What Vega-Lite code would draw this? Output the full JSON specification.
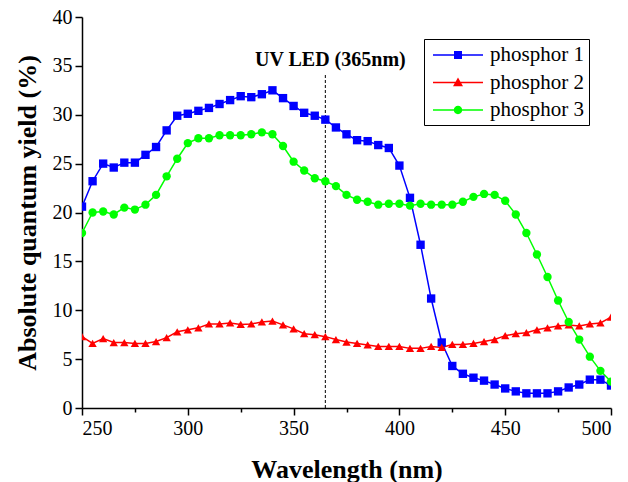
{
  "$schema": "https://vega.github.io/schema/vega-lite/v6.json",
  "width": 529,
  "height": 391,
  "autosize": "none",
  "padding": {"left": 82, "top": 17, "right": 17, "bottom": 74},
  "background": "white",
  "config": {
    "view": {"stroke": null},
    "axis": {
      "domainColor": "black", "domainWidth": 1.5, "tickColor": "black", "tickWidth": 1.5,
      "labelColor": "black", "labelFont": "Liberation Serif", "labelFontSize": 20,
      "titleFont": "Liberation Serif", "titleFontSize": 26, "titleFontWeight": "bold", "titleColor": "black",
      "grid": false
    }
  },
  "datasets": {
    "spectra": [
      {"w":250,"s":"phosphor 1","v":20.6},{"w":255,"s":"phosphor 1","v":23.2},{"w":260,"s":"phosphor 1","v":25.0},{"w":265,"s":"phosphor 1","v":24.6},{"w":270,"s":"phosphor 1","v":25.1},{"w":275,"s":"phosphor 1","v":25.1},{"w":280,"s":"phosphor 1","v":25.9},{"w":285,"s":"phosphor 1","v":26.7},{"w":290,"s":"phosphor 1","v":28.4},{"w":295,"s":"phosphor 1","v":29.9},
      {"w":300,"s":"phosphor 1","v":30.1},{"w":305,"s":"phosphor 1","v":30.4},{"w":310,"s":"phosphor 1","v":30.7},{"w":315,"s":"phosphor 1","v":31.1},{"w":320,"s":"phosphor 1","v":31.5},{"w":325,"s":"phosphor 1","v":31.9},{"w":330,"s":"phosphor 1","v":31.8},{"w":335,"s":"phosphor 1","v":32.1},{"w":340,"s":"phosphor 1","v":32.5},{"w":345,"s":"phosphor 1","v":31.7},
      {"w":350,"s":"phosphor 1","v":30.9},{"w":355,"s":"phosphor 1","v":30.2},{"w":360,"s":"phosphor 1","v":29.9},{"w":365,"s":"phosphor 1","v":29.5},{"w":370,"s":"phosphor 1","v":28.7},{"w":375,"s":"phosphor 1","v":28.0},{"w":380,"s":"phosphor 1","v":27.4},{"w":385,"s":"phosphor 1","v":27.3},{"w":390,"s":"phosphor 1","v":26.9},{"w":395,"s":"phosphor 1","v":26.6},
      {"w":400,"s":"phosphor 1","v":24.8},{"w":405,"s":"phosphor 1","v":21.5},{"w":410,"s":"phosphor 1","v":16.7},{"w":415,"s":"phosphor 1","v":11.2},{"w":420,"s":"phosphor 1","v":6.7},{"w":425,"s":"phosphor 1","v":4.3},{"w":430,"s":"phosphor 1","v":3.5},{"w":435,"s":"phosphor 1","v":3.1},{"w":440,"s":"phosphor 1","v":2.8},{"w":445,"s":"phosphor 1","v":2.4},
      {"w":450,"s":"phosphor 1","v":2.0},{"w":455,"s":"phosphor 1","v":1.7},{"w":460,"s":"phosphor 1","v":1.5},{"w":465,"s":"phosphor 1","v":1.5},{"w":470,"s":"phosphor 1","v":1.5},{"w":475,"s":"phosphor 1","v":1.7},{"w":480,"s":"phosphor 1","v":2.1},{"w":485,"s":"phosphor 1","v":2.4},{"w":490,"s":"phosphor 1","v":2.9},{"w":495,"s":"phosphor 1","v":2.9},{"w":500,"s":"phosphor 1","v":2.3},

      {"w":250,"s":"phosphor 2","v":7.3},{"w":255,"s":"phosphor 2","v":6.6},{"w":260,"s":"phosphor 2","v":7.1},{"w":265,"s":"phosphor 2","v":6.7},{"w":270,"s":"phosphor 2","v":6.7},{"w":275,"s":"phosphor 2","v":6.6},{"w":280,"s":"phosphor 2","v":6.6},{"w":285,"s":"phosphor 2","v":6.8},{"w":290,"s":"phosphor 2","v":7.2},{"w":295,"s":"phosphor 2","v":7.8},
      {"w":300,"s":"phosphor 2","v":8.0},{"w":305,"s":"phosphor 2","v":8.2},{"w":310,"s":"phosphor 2","v":8.6},{"w":315,"s":"phosphor 2","v":8.6},{"w":320,"s":"phosphor 2","v":8.7},{"w":325,"s":"phosphor 2","v":8.55},{"w":330,"s":"phosphor 2","v":8.6},{"w":335,"s":"phosphor 2","v":8.8},{"w":340,"s":"phosphor 2","v":8.9},{"w":345,"s":"phosphor 2","v":8.5},
      {"w":350,"s":"phosphor 2","v":8.1},{"w":355,"s":"phosphor 2","v":7.6},{"w":360,"s":"phosphor 2","v":7.5},{"w":365,"s":"phosphor 2","v":7.3},{"w":370,"s":"phosphor 2","v":7.0},{"w":375,"s":"phosphor 2","v":6.75},{"w":380,"s":"phosphor 2","v":6.6},{"w":385,"s":"phosphor 2","v":6.45},{"w":390,"s":"phosphor 2","v":6.3},{"w":395,"s":"phosphor 2","v":6.3},
      {"w":400,"s":"phosphor 2","v":6.3},{"w":405,"s":"phosphor 2","v":6.1},{"w":410,"s":"phosphor 2","v":6.1},{"w":415,"s":"phosphor 2","v":6.3},{"w":420,"s":"phosphor 2","v":6.2},{"w":425,"s":"phosphor 2","v":6.5},{"w":430,"s":"phosphor 2","v":6.5},{"w":435,"s":"phosphor 2","v":6.6},{"w":440,"s":"phosphor 2","v":6.8},{"w":445,"s":"phosphor 2","v":7.0},
      {"w":450,"s":"phosphor 2","v":7.4},{"w":455,"s":"phosphor 2","v":7.6},{"w":460,"s":"phosphor 2","v":7.7},{"w":465,"s":"phosphor 2","v":8.0},{"w":470,"s":"phosphor 2","v":8.2},{"w":475,"s":"phosphor 2","v":8.4},{"w":480,"s":"phosphor 2","v":8.5},{"w":485,"s":"phosphor 2","v":8.4},{"w":490,"s":"phosphor 2","v":8.6},{"w":495,"s":"phosphor 2","v":8.7},{"w":500,"s":"phosphor 2","v":9.3},

      {"w":250,"s":"phosphor 3","v":17.9},{"w":255,"s":"phosphor 3","v":20.0},{"w":260,"s":"phosphor 3","v":20.1},{"w":265,"s":"phosphor 3","v":19.8},{"w":270,"s":"phosphor 3","v":20.5},{"w":275,"s":"phosphor 3","v":20.3},{"w":280,"s":"phosphor 3","v":20.8},{"w":285,"s":"phosphor 3","v":21.8},{"w":290,"s":"phosphor 3","v":23.7},{"w":295,"s":"phosphor 3","v":25.5},
      {"w":300,"s":"phosphor 3","v":27.1},{"w":305,"s":"phosphor 3","v":27.6},{"w":310,"s":"phosphor 3","v":27.6},{"w":315,"s":"phosphor 3","v":27.9},{"w":320,"s":"phosphor 3","v":27.9},{"w":325,"s":"phosphor 3","v":27.9},{"w":330,"s":"phosphor 3","v":28.0},{"w":335,"s":"phosphor 3","v":28.2},{"w":340,"s":"phosphor 3","v":28.0},{"w":345,"s":"phosphor 3","v":26.8},
      {"w":350,"s":"phosphor 3","v":25.2},{"w":355,"s":"phosphor 3","v":24.3},{"w":360,"s":"phosphor 3","v":23.5},{"w":365,"s":"phosphor 3","v":23.2},{"w":370,"s":"phosphor 3","v":22.7},{"w":375,"s":"phosphor 3","v":21.8},{"w":380,"s":"phosphor 3","v":21.3},{"w":385,"s":"phosphor 3","v":21.1},{"w":390,"s":"phosphor 3","v":20.8},{"w":395,"s":"phosphor 3","v":20.9},
      {"w":400,"s":"phosphor 3","v":20.9},{"w":405,"s":"phosphor 3","v":20.7},{"w":410,"s":"phosphor 3","v":20.9},{"w":415,"s":"phosphor 3","v":20.8},{"w":420,"s":"phosphor 3","v":20.8},{"w":425,"s":"phosphor 3","v":20.8},{"w":430,"s":"phosphor 3","v":21.1},{"w":435,"s":"phosphor 3","v":21.6},{"w":440,"s":"phosphor 3","v":21.9},{"w":445,"s":"phosphor 3","v":21.8},
      {"w":450,"s":"phosphor 3","v":21.2},{"w":455,"s":"phosphor 3","v":19.8},{"w":460,"s":"phosphor 3","v":17.9},{"w":465,"s":"phosphor 3","v":15.7},{"w":470,"s":"phosphor 3","v":13.4},{"w":475,"s":"phosphor 3","v":11.0},{"w":480,"s":"phosphor 3","v":8.8},{"w":485,"s":"phosphor 3","v":7.0},{"w":490,"s":"phosphor 3","v":5.25},{"w":495,"s":"phosphor 3","v":3.8},{"w":500,"s":"phosphor 3","v":2.7}
    ],
    "led": [{"w": 365, "bottom": 0, "top": 34.1, "labelY": 35.6, "label": "UV LED (365nm)"}]
  },
  "resolve": {"scale": {"shape": "independent", "color": "independent"}},
  "layer": [
    {
      "data": {"name": "led"},
      "mark": {"type": "rule", "color": "black", "strokeWidth": 1, "strokeDash": [3, 2]},
      "encoding": {
        "x": {"field": "w", "type": "quantitative"},
        "y": {"field": "bottom", "type": "quantitative"},
        "y2": {"field": "top"}
      }
    },
    {
      "data": {"name": "led"},
      "mark": {"type": "text", "font": "Liberation Serif", "fontWeight": "bold", "fontSize": 20, "color": "black", "align": "center", "baseline": "middle", "dx": 5},
      "encoding": {
        "x": {"field": "w", "type": "quantitative"},
        "y": {"field": "labelY", "type": "quantitative"},
        "text": {"field": "label", "type": "nominal"}
      }
    },
    {
      "data": {"name": "spectra"},
      "mark": {"type": "line", "strokeWidth": 1.5, "clip": true},
      "encoding": {
        "x": {"field": "w", "type": "quantitative"},
        "y": {"field": "v", "type": "quantitative"},
        "stroke": {
          "field": "s", "type": "nominal",
          "scale": {"domain": ["phosphor 1", "phosphor 2", "phosphor 3"], "range": ["#0000ff", "#ff0000", "#00ff00"]},
          "legend": null
        }
      }
    },
    {
      "data": {"name": "spectra"},
      "mark": {"type": "point", "filled": true, "opacity": 1, "size": 70, "clip": true},
      "encoding": {
        "x": {
          "field": "w", "type": "quantitative",
          "scale": {"domain": [250, 500], "nice": false, "zero": false},
          "axis": {
            "title": "Wavelength (nm)",
            "values": [250,275,300,325,350,375,400,425,450,475,500],
            "labelExpr": "datum.value % 50 === 0 ? datum.label : ''",
            "tickSize": {"condition": {"test": "datum.value % 50 === 0", "value": 7}, "value": 4},
            "labelPadding": 3,
            "titlePadding": 18
          }
        },
        "y": {
          "field": "v", "type": "quantitative",
          "scale": {"domain": [0, 40], "nice": false},
          "axis": {
            "title": "Absolute quantum yield (%)",
            "values": [0,2.5,5,7.5,10,12.5,15,17.5,20,22.5,25,27.5,30,32.5,35,37.5,40],
            "labelExpr": "datum.value % 5 === 0 ? datum.label : ''",
            "tickSize": {"condition": {"test": "datum.value % 5 === 0", "value": 7}, "value": 4},
            "labelPadding": 3,
            "titlePadding": 12
          }
        },
        "fill": {
          "field": "s", "type": "nominal",
          "scale": {"domain": ["phosphor 1", "phosphor 2", "phosphor 3"], "range": ["#0000ff", "#ff0000", "#00ff00"]},
          "legend": null
        },
        "shape": {
          "field": "s", "type": "nominal",
          "scale": {"domain": ["phosphor 1", "phosphor 2", "phosphor 3"], "range": ["square", "triangle-up", "circle"]},
          "legend": null
        }
      }
    },
    {
      "data": {"name": "spectra"},
      "transform": [{"filter": "datum.w < 0"}],
      "mark": {"type": "point", "filled": true, "opacity": 1},
      "encoding": {
        "x": {"field": "w", "type": "quantitative"},
        "y": {"field": "v", "type": "quantitative"},
        "color": {
          "field": "s", "type": "nominal",
          "scale": {"domain": ["phosphor 1", "phosphor 2", "phosphor 3"], "range": ["#0000ff", "#ff0000", "#00ff00"]},
          "legend": {
            "orient": "none", "legendX": 342, "legendY": 22, "title": null,
            "strokeColor": "black", "fillColor": "white", "padding": 5,
            "labelFont": "Liberation Serif", "labelFontSize": 21, "labelColor": "black",
            "symbolSize": 400, "rowPadding": 6.5, "symbolOffset": 18, "labelOffset": 21, "symbolOpacity": 1
          }
        },
        "shape": {
          "field": "s", "type": "nominal",
          "scale": {
            "domain": ["phosphor 1", "phosphor 2", "phosphor 3"],
            "range": [
              "M-2.5,-0.075H2.5V0.075H-2.5ZM-0.4,-0.4H0.4V0.4H-0.4Z",
              "M-2.5,-0.075H2.5V0.075H-2.5ZM0,-0.5L0.5,0.38H-0.5Z",
              "M-2.5,-0.075H2.5V0.075H-2.5ZM-0.42,0A0.42,0.42 0 1,1 0.42,0A0.42,0.42 0 1,1 -0.42,0Z"
            ]
          },
          "legend": {
            "orient": "none", "legendX": 342, "legendY": 22, "title": null,
            "strokeColor": "black", "fillColor": "white", "padding": 5,
            "labelFont": "Liberation Serif", "labelFontSize": 21, "labelColor": "black",
            "symbolSize": 400, "rowPadding": 6.5, "symbolOffset": 18, "labelOffset": 21, "symbolOpacity": 1
          }
        }
      }
    }
  ]
}
